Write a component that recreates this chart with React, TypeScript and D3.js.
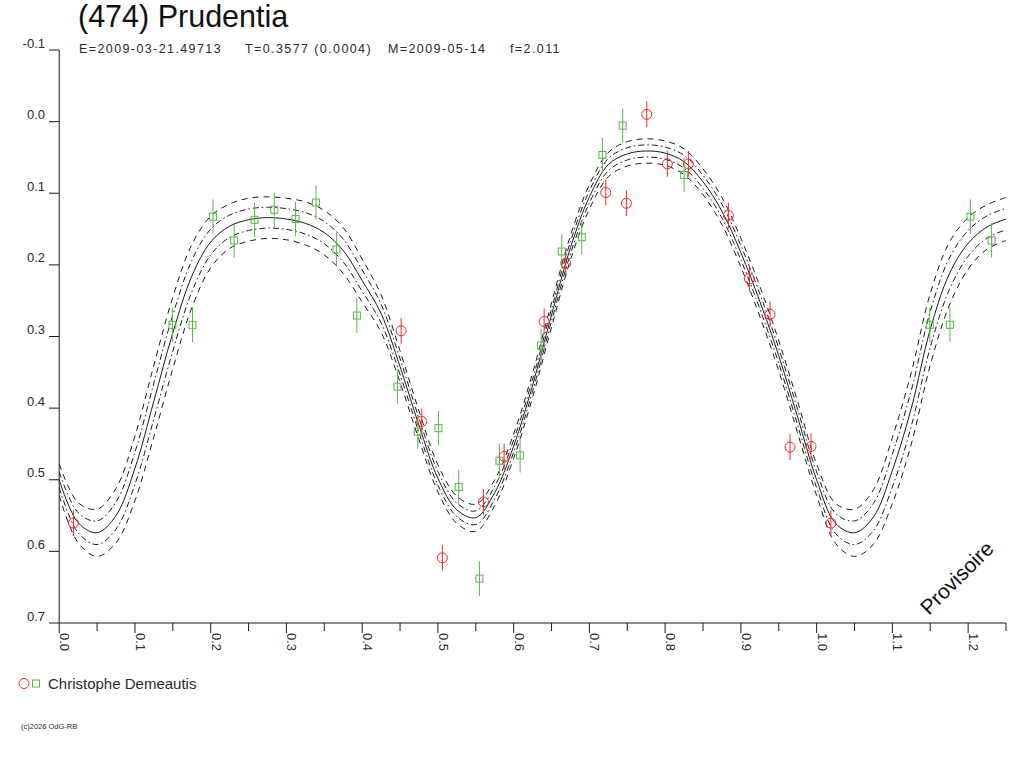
import * as d3 from "d3";

// phase-folded lightcurve, (474) Prudentia
const modelPhase = [
  0.0, 0.025, 0.05, 0.075, 0.1, 0.125, 0.15, 0.175, 0.2, 0.225,
  0.25, 0.275, 0.3, 0.325, 0.35, 0.375, 0.4, 0.425, 0.45, 0.475,
  0.5, 0.525, 0.55, 0.575, 0.6, 0.625, 0.65, 0.675, 0.7, 0.725,
  0.75, 0.775, 0.8, 0.825, 0.85, 0.875, 0.9, 0.925, 0.95, 0.975,
  1.0, 1.025, 1.05, 1.075, 1.1, 1.125, 1.15, 1.175, 1.2, 1.225, 1.25,
];
const modelMag = [
  0.5, 0.56, 0.574, 0.55, 0.484, 0.39, 0.295, 0.216, 0.168, 0.146,
  0.137, 0.134, 0.136, 0.142, 0.155, 0.18, 0.222, 0.268, 0.342, 0.424,
  0.498, 0.542, 0.553, 0.518, 0.453, 0.368, 0.27, 0.176, 0.105, 0.06,
  0.045, 0.041, 0.044, 0.056, 0.084, 0.125, 0.183, 0.251, 0.327, 0.413,
  0.5, 0.561, 0.574, 0.552, 0.487, 0.4, 0.29, 0.213, 0.17, 0.147, 0.136,
];
// half-width of the outer envelope (inner one is half of it)
const modelSpread = [
  0.022, 0.028, 0.033, 0.038, 0.045, 0.05, 0.05, 0.044, 0.036, 0.031,
  0.03, 0.029, 0.029, 0.03, 0.031, 0.032, 0.03, 0.026, 0.022, 0.02,
  0.019, 0.019, 0.019, 0.018, 0.017, 0.017, 0.017, 0.017, 0.017, 0.017,
  0.017, 0.017, 0.017, 0.018, 0.018, 0.019, 0.02, 0.021, 0.021, 0.022,
  0.022, 0.028, 0.033, 0.038, 0.046, 0.05, 0.05, 0.044, 0.036, 0.031, 0.03,
];

const redPhase = [
  0.0188, 0.4514, 0.4787, 0.5059, 0.5601, 0.5874, 0.6402, 0.6688, 0.7216,
  0.7488, 0.7757, 0.8029, 0.8307, 0.8835, 0.9112, 0.9385, 0.9649, 0.9926,
];
const redMag = [
  0.5605, 0.292, 0.4186, 0.609, 0.531, 0.4674, 0.279, 0.1977, 0.099,
  0.114, -0.0102, 0.059, 0.059, 0.131, 0.2195, 0.269, 0.4544, 0.4535,
];
const redErr = 0.018;

const greenPhase = [
  0.1494, 0.176, 0.203, 0.231, 0.258, 0.284, 0.312, 0.339, 0.366, 0.393,
  0.4465, 0.4734, 0.5007, 0.5275, 0.5548, 0.5812, 0.6085, 0.6362, 0.6635,
  0.6899, 0.7172, 0.7439, 0.825,
];
const greenMag = [
  0.2837, 0.2837, 0.1326, 0.166, 0.137, 0.123, 0.136, 0.113, 0.1786, 0.2707,
  0.37, 0.4326, 0.428, 0.51, 0.638, 0.4735, 0.466, 0.3126, 0.1814,
  0.1614, 0.0465, 0.0056, 0.0744,
];
const greenErr = 0.024;

const yTicks = [-0.1, 0.0, 0.1, 0.2, 0.3, 0.4, 0.5, 0.6, 0.7];
const xMajor = [0, 0.1, 0.2, 0.3, 0.4, 0.5, 0.6, 0.7, 0.8, 0.9, 1.0, 1.1, 1.2];
const xMinor = [0.05, 0.15, 0.25, 0.35, 0.45, 0.55, 0.65, 0.75, 0.85, 0.95, 1.05, 1.15, 1.25];

const RED = "#f02a2a";
const GREEN = "#58b846";
const INK = "#1a1a1a";
const TXT = "#2a2a2a";
const FONT = "'Liberation Sans', Arial, sans-serif";

const x = d3.scaleLinear().domain([0, 1.25]).range([59.2, 1006]);
const y = d3.scaleLinear().domain([-0.1, 0.7]).range([50, 623]);

// points with phase < 0.25 are shown again one cycle later
function folded(ph: number[], mag: number[]) {
  const out = ph.map((p, i) => ({ p, m: mag[i] }));
  ph.forEach((p, i) => {
    if (p + 1 <= 1.25) out.push({ p: p + 1, m: mag[i] });
  });
  return out;
}

function curvePath(k: number) {
  const pts = modelPhase.map((p, i) => [p, modelMag[i] + k * modelSpread[i]] as [number, number]);
  return d3
    .line<[number, number]>()
    .x((d) => x(d[0]))
    .y((d) => y(d[1]))
    .curve(d3.curveCatmullRom.alpha(0.5))(pts) as string;
}

export default function App() {
  const reds = folded(redPhase, redMag);
  const greens = folded(greenPhase, greenMag);

  const subtitle = [
    { t: "E=2009-03-21.49713", at: 79 },
    { t: "T=0.3577 (0.0004)", at: 245 },
    { t: "M=2009-05-14", at: 388 },
    { t: "f=2.011", at: 510 },
  ];

  return (
    <div style={{ position: "absolute", left: 0, top: 0 }}>
      <svg width={1024} height={768} style={{ display: "block", background: "#fff" }} fontFamily={FONT}>
        <text x={78} y={27} fontSize={30.5} fill="#111">(474) Prudentia</text>
        {subtitle.map((s) => (
          <text key={s.t} x={s.at} y={53} fontSize={12.5} letterSpacing={1.4} fill={TXT}>
            {s.t}
          </text>
        ))}

        {/* envelope and model */}
        <path d={curvePath(1)} fill="none" stroke={INK} strokeWidth={1} strokeDasharray="6,5" />
        <path d={curvePath(-1)} fill="none" stroke={INK} strokeWidth={1} strokeDasharray="6,5" />
        <path d={curvePath(0.5)} fill="none" stroke={INK} strokeWidth={1} strokeDasharray="6,3,1.5,3" />
        <path d={curvePath(-0.5)} fill="none" stroke={INK} strokeWidth={1} strokeDasharray="6,3,1.5,3" />
        <path d={curvePath(0)} fill="none" stroke={INK} strokeWidth={1} />

        {/* axes */}
        <line x1={x(0)} x2={x(0)} y1={y(-0.1)} y2={y(0.7)} stroke={INK} />
        <line x1={x(0)} x2={x(1.25)} y1={y(0.7)} y2={y(0.7)} stroke={INK} />
        {yTicks.map((t) => (
          <g key={t}>
            <line x1={49} x2={x(0)} y1={y(t)} y2={y(t)} stroke={INK} />
            <text x={45} y={y(t) - 2.5} fontSize={13} textAnchor="end" fill={TXT}>
              {t.toFixed(1)}
            </text>
          </g>
        ))}
        {xMajor.map((t) => (
          <g key={t}>
            <line x1={x(t)} x2={x(t)} y1={y(0.7)} y2={y(0.7) + 10} stroke={INK} />
            <text
              transform={`translate(${x(t) + 1},${y(0.7) + 10}) rotate(90)`}
              fontSize={13}
              fill={TXT}
            >
              {t.toFixed(1)}
            </text>
          </g>
        ))}
        {xMinor.map((t) => (
          <line key={t} x1={x(t)} x2={x(t)} y1={y(0.7)} y2={y(0.7) + 8} stroke={INK} />
        ))}

        {/* observations */}
        {greens.map((d, i) => (
          <g key={"g" + i} stroke={GREEN} fill="none">
            <line x1={x(d.p)} x2={x(d.p)} y1={y(d.m - greenErr)} y2={y(d.m + greenErr)} />
            <rect x={x(d.p) - 3.5} y={y(d.m) - 3.5} width={7} height={7} />
          </g>
        ))}
        {reds.map((d, i) => (
          <g key={"r" + i} stroke={RED} fill="none">
            <line x1={x(d.p)} x2={x(d.p)} y1={y(d.m - redErr)} y2={y(d.m + redErr)} />
            <circle cx={x(d.p)} cy={y(d.m)} r={5} />
          </g>
        ))}

        <text
          transform="translate(958,579) rotate(-45)"
          fontSize={21}
          textAnchor="middle"
          dominantBaseline="middle"
          fill="#111"
        >
          Provisoire
        </text>

        {/* legend */}
        <circle cx={24} cy={683.5} r={5} fill="none" stroke={RED} />
        <rect x={32.5} y={680} width={7} height={7} fill="none" stroke={GREEN} />
        <text x={48} y={688.5} fontSize={15} fill={TXT}>Christophe Demeautis</text>

        <text x={21} y={728.5} fontSize={7.5} fill={TXT}>(c)2026 OdG-RB</text>
      </svg>
    </div>
  );
}
